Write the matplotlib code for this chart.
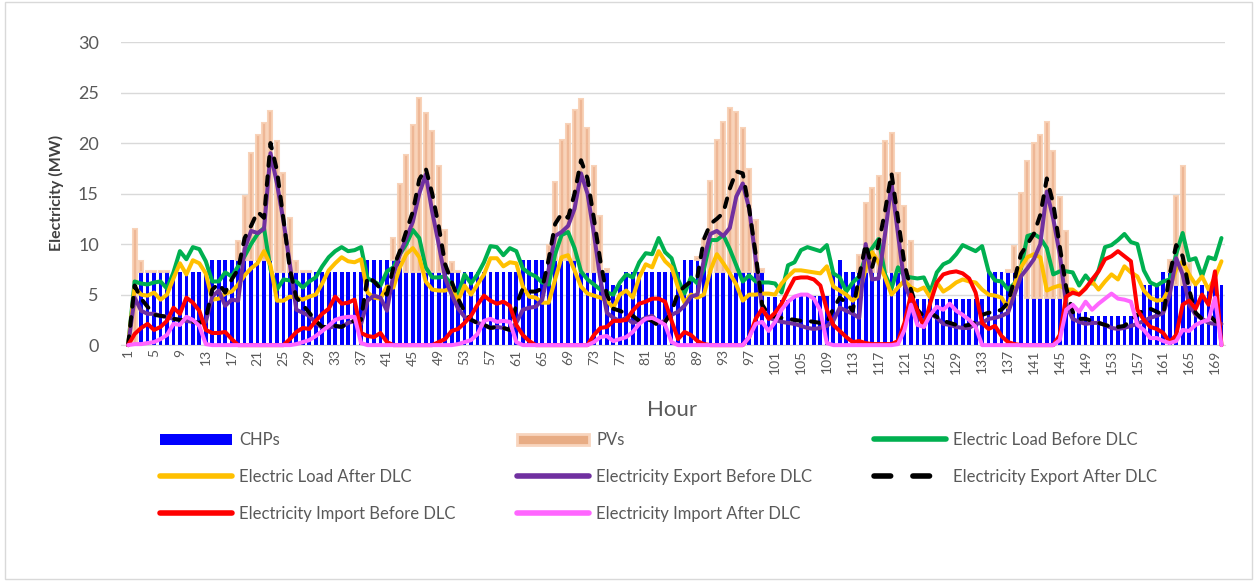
import numpy as np
import matplotlib
matplotlib.use("Agg")
import matplotlib.pyplot as plt
from matplotlib.lines import Line2D
from matplotlib.patches import Patch, Rectangle

plt.rcParams['font.family'] = ['Lato', 'DejaVu Sans']

hours = np.arange(1, 171)

# generation (MW), bars
chp = np.array([
    0, 0, 7.2, 7.2, 7.2, 7.2, 7.2, 7.2, 7.2, 7.2,
    7.2, 7.2, 7.2, 8.4, 8.4, 8.4, 8.4, 8.4, 8.4, 8.4,
    8.4, 8.4, 8.4, 7.2, 7.2, 7.2, 7.2, 7.2, 7.2, 7.2,
    7.2, 7.2, 7.2, 7.2, 7.2, 7.2, 7.2, 8.4, 8.4, 8.4,
    8.4, 8.4, 8.4, 7.2, 7.2, 7.2, 7.2, 7.2, 7.2, 7.2,
    7.2, 7.2, 7.2, 7.2, 7.2, 7.2, 7.2, 7.2, 7.2, 7.2,
    7.2, 8.4, 8.4, 8.4, 8.4, 8.4, 8.4, 8.4, 8.4, 8.4,
    7.2, 7.2, 7.2, 7.2, 7.2, 6.0, 6.0, 7.2, 7.2, 7.2,
    7.2, 7.2, 7.2, 7.2, 7.2, 7.2, 8.4, 8.4, 8.4, 8.4,
    7.2, 7.2, 7.2, 7.2, 7.2, 7.2, 7.2, 7.2, 7.2, 4.8,
    4.8, 4.5, 4.5, 4.9, 4.9, 4.9, 4.9, 4.9, 4.9, 7.2,
    8.4, 7.2, 7.2, 7.2, 7.2, 7.2, 7.2, 7.2, 7.2, 7.2,
    7.2, 4.6, 4.6, 4.6, 4.6, 4.6, 4.6, 4.6, 4.6, 4.6,
    4.6, 4.6, 4.6, 7.2, 7.2, 7.2, 7.2, 7.2, 7.2, 4.7,
    4.7, 4.7, 4.7, 4.7, 4.7, 3.3, 3.3, 3.3, 3.3, 2.9,
    2.9, 2.9, 2.9, 2.9, 2.9, 2.9, 2.9, 6.0, 6.0, 6.0,
    7.2, 7.2, 6.0, 6.0, 6.0, 6.0, 6.0, 6.0, 6.0, 6.0])

pv = np.array([
    0, 11.5, 1.1, 0.1, 0.1, 0.1, 0.1, 0, 0, 0,
    0, 0, 0, 0, 0, 0, 0, 1.9, 6.4, 10.6,
    12.4, 13.6, 14.8, 13.0, 9.8, 5.4, 1.1, 0.1, 0.1, 0,
    0, 0, 0, 0, 0, 0, 0, 0, 0, 0,
    0, 2.2, 7.5, 11.6, 14.6, 17.3, 15.8, 14.0, 10.5, 4.2,
    1.0, 0.1, 0, 0, 0, 0, 0, 0, 0, 0,
    0, 0, 0, 0, 0, 1.5, 7.7, 11.9, 13.5, 14.9,
    17.2, 14.3, 10.5, 5.6, 0.3, 0, 0, 0, 0, 0,
    0, 0, 0, 0, 0, 0, 0, 0, 0.3, 2.1,
    9.0, 13.1, 14.9, 16.3, 15.9, 14.3, 10.2, 5.2, 0.3, 0,
    0, 0, 0, 0, 0, 0, 0, 0, 0, 0,
    0, 0, 0, 1.7, 6.9, 8.4, 9.5, 13.0, 13.8, 9.8,
    6.6, 5.7, 0, 0, 0, 0, 0, 0, 0, 0,
    0, 0, 0, 0, 0, 0, 0.2, 2.6, 7.9, 13.5,
    15.3, 16.1, 17.4, 14.5, 10.0, 8.0, 0, 0, 0, 0,
    0, 0, 0, 0, 0, 0, 0, 0, 0, 0,
    0, 1.2, 8.8, 11.7, 2.1, 0, 0, 0, 0, 0])

# electric load (MW)
load_before = np.array([
    0, 6.3, 6.1, 6.0, 6.2, 6.3, 5.6, 7.2, 9.3, 8.5,
    9.7, 9.5, 8.3, 6.3, 6.3, 7.2, 6.8, 7.8, 8.8, 10.0,
    11.0, 11.6, 7.5, 5.5, 6.5, 6.4, 6.3, 5.7, 6.3, 6.7,
    7.8, 8.7, 9.3, 9.7, 9.3, 9.4, 9.7, 6.6, 6.3, 5.9,
    7.3, 7.7, 9.0, 10.0, 11.4, 10.6, 7.7, 6.7, 6.7, 6.8,
    6.0, 5.0, 7.0, 6.1, 7.0, 8.2, 9.8, 9.7, 8.9, 9.6,
    9.3, 7.6, 7.1, 6.8, 6.2, 6.0, 9.0, 10.9, 11.2, 9.6,
    7.3, 6.5, 6.0, 5.5, 5.2, 5.0, 6.2, 7.0, 6.7, 8.2,
    9.1, 9.0, 10.6, 9.2, 8.6, 6.5, 5.1, 6.7, 6.1, 7.5,
    10.4, 10.4, 10.9, 9.5, 7.9, 6.3, 6.9, 6.3, 6.2, 6.2,
    6.1, 5.2, 7.9, 8.2, 9.4, 9.7, 9.5, 9.3, 9.9, 7.1,
    6.7, 5.3, 6.2, 6.8, 8.8, 9.6, 10.5, 7.0, 5.6, 7.7,
    6.8, 6.7, 6.6, 6.7, 5.3, 7.2, 8.0, 8.3, 9.0, 9.9,
    9.6, 9.3, 9.8, 7.3, 6.4, 6.3, 5.5, 6.1, 7.6, 10.8,
    11.0, 10.6, 9.6, 7.0, 7.3, 7.3, 7.2, 5.9, 6.9, 6.1,
    7.4, 9.7, 9.9, 10.4, 11.0, 10.2, 10.0, 7.4, 6.2, 5.9,
    6.3, 6.5, 9.0, 11.1, 8.4, 8.6, 6.8, 8.7, 8.5, 10.6])

load_after = np.array([
    0, 5.7, 5.0, 4.9, 5.2, 4.5, 5.0, 6.6, 8.1, 7.0,
    8.4, 8.1, 7.1, 4.5, 4.6, 5.1, 5.3, 6.0, 6.9, 7.6,
    8.1, 9.3, 7.9, 4.4, 4.4, 4.8, 4.7, 4.5, 4.8, 5.0,
    6.1, 7.4, 8.1, 8.7, 8.3, 8.2, 8.5, 5.2, 4.7, 4.6,
    5.8, 5.7, 7.7, 9.0, 9.6, 8.7, 6.3, 5.5, 5.4, 5.4,
    5.7, 4.4, 5.9, 5.0, 6.0, 7.0, 8.6, 8.6, 7.8, 8.2,
    8.1, 5.8, 4.8, 4.7, 4.2, 4.2, 6.5, 8.7, 8.9, 7.4,
    5.8, 5.1, 4.9, 4.7, 4.4, 3.7, 5.0, 5.4, 4.7, 6.7,
    8.0, 7.7, 9.3, 8.3, 7.7, 5.7, 4.2, 5.0, 4.7, 5.0,
    7.4, 9.0, 8.1, 7.1, 6.0, 4.4, 5.0, 5.0, 5.1, 5.1,
    5.0, 6.1, 6.8, 7.4, 7.4, 7.3, 7.2, 7.1, 7.8, 5.8,
    5.4, 5.0, 4.4, 5.0, 7.6, 9.2, 8.2, 6.7, 5.0, 5.7,
    6.4, 5.7, 5.4, 5.7, 4.7, 6.2, 5.3, 5.7, 6.2, 6.5,
    6.3, 6.2, 5.5, 5.0, 4.9, 4.7, 3.7, 6.0, 7.7, 8.7,
    9.0, 8.7, 5.4, 5.7, 5.9, 5.5, 5.5, 5.0, 5.7, 6.3,
    5.5, 6.3, 7.0, 6.5, 7.8, 7.2, 6.8, 5.4, 4.7, 4.4,
    4.5, 5.7, 7.5, 8.3, 7.0, 6.0, 6.8, 5.5, 6.7, 8.3])

# grid exchange (MW)
export_before = np.array([
    0, 4.7, 3.4, 3.1, 3.1, 2.9, 2.8, 2.6, 2.5, 2.4,
    2.3, 2.2, 2.3, 4.8, 5.4, 3.9, 4.5, 4.4, 9.5, 11.3,
    11.1, 11.5, 19.0, 16.0, 12.3, 8.0, 3.5, 3.2, 2.9, 2.2,
    1.7, 1.7, 1.9, 1.8, 2.2, 2.4, 2.1, 4.4, 4.9, 4.7,
    3.4, 7.0, 9.0, 10.6, 12.2, 15.0, 16.9, 13.2, 10.0, 6.6,
    5.0, 3.6, 2.8, 2.5, 2.2, 2.0, 1.7, 1.8, 1.7, 1.5,
    2.2, 3.5, 3.7, 3.8, 4.5, 7.5, 10.8, 11.2, 11.8, 13.5,
    17.0, 15.0, 11.0, 6.5, 3.2, 2.7, 2.4, 2.7, 2.2, 2.4,
    2.7, 2.9, 2.2, 2.4, 3.0, 3.3, 3.9, 4.8, 5.0, 8.5,
    11.0, 11.3, 10.8, 11.6, 14.7, 16.0, 13.5, 8.5, 3.6, 2.7,
    2.5, 2.3, 2.2, 2.1, 1.9, 1.7, 1.6, 1.7, 1.9, 2.4,
    3.7, 3.4, 3.1, 2.7, 10.0, 6.5, 6.6, 11.0, 16.0, 11.0,
    6.0, 4.5, 2.7, 2.4, 3.1, 2.7, 2.1, 2.0, 1.8, 1.7,
    1.7, 2.1, 2.2, 2.6, 2.7, 2.9, 3.2, 5.0, 6.8, 7.6,
    8.5, 10.0, 15.2, 12.5, 9.0, 4.0, 2.6, 2.3, 2.1, 2.2,
    2.2, 2.0, 1.7, 1.6, 1.7, 1.9, 2.1, 2.4, 2.7, 2.9,
    3.2, 5.0, 8.6, 7.0, 4.0, 3.0, 2.6, 2.2, 2.1, 2.1])

export_after = np.array([
    0, 5.9, 4.6, 3.8, 3.0, 2.9, 2.8, 2.6, 2.5, 2.4,
    2.3, 2.2, 2.6, 5.5, 6.1, 5.2, 6.5, 7.5, 10.6, 11.8,
    13.2, 12.6, 20.0, 17.3, 12.5, 7.5, 4.7, 4.0, 3.2, 2.4,
    1.8, 1.8, 1.9, 1.8, 2.2, 2.4, 2.5, 6.8, 6.3, 5.6,
    5.0, 7.7, 9.3, 11.3, 13.2, 16.4, 17.5, 15.0, 11.8, 8.0,
    6.3, 4.6, 3.3, 2.5, 2.2, 2.0, 1.7, 1.8, 1.7, 1.5,
    4.0, 5.6, 5.3, 5.3, 5.6, 8.5, 12.0, 13.0, 12.6, 15.0,
    18.3, 16.5, 12.5, 8.3, 5.0, 3.6, 3.4, 3.1, 2.9, 2.4,
    2.6, 2.4, 1.9, 2.3, 3.3, 5.2, 5.8, 6.3, 6.8, 10.5,
    12.0, 12.5, 13.1, 15.5, 17.2, 17.0, 13.5, 9.0, 4.0, 3.0,
    2.8, 2.7, 2.6, 2.5, 2.4, 2.4, 2.3, 2.2, 2.3, 3.6,
    4.7, 4.2, 3.4, 6.8, 10.0, 7.7, 10.0, 13.3, 17.0, 12.5,
    8.0, 5.5, 3.5, 2.8, 3.2, 2.8, 2.4, 2.2, 2.0, 1.9,
    2.0, 2.3, 3.0, 3.2, 3.3, 3.5, 4.2, 6.5, 9.0, 10.0,
    11.0, 12.9, 16.5, 14.0, 9.8, 5.7, 3.3, 2.6, 2.6, 2.4,
    2.2, 2.0, 1.8, 1.8, 1.9, 2.5, 3.0, 3.5, 3.6, 3.3,
    3.0, 7.0, 9.9, 8.8, 5.5, 3.2, 2.6, 3.0, 2.4, 2.1])

import_before = np.array([
    0, 1.1, 1.7, 2.1, 1.5, 1.8, 2.4, 3.7, 3.1, 4.7,
    4.2, 3.4, 1.5, 1.2, 1.2, 1.3, 0.6, 0, 0, 0,
    0, 0, 0, 0, 0, 0.6, 1.3, 1.7, 1.6, 2.4,
    3.1, 3.6, 4.8, 4.1, 4.2, 4.5, 1.2, 0.9, 0.8, 1.2,
    0.3, 0, 0, 0, 0, 0, 0, 0, 0.3, 0.6,
    1.4, 1.6, 2.2, 2.9, 4.0, 4.9, 4.4, 4.1, 4.3, 3.9,
    2.0, 1.0, 0.4, 0, 0, 0, 0, 0, 0, 0,
    0, 0, 1.0, 1.7, 1.8, 2.4, 2.4, 2.5, 3.4, 4.1,
    4.3, 4.6, 4.6, 4.3, 2.4, 0.6, 1.3, 1.0, 0.4, 0.1,
    0, 0, 0, 0, 0, 0, 0.8, 2.6, 3.6, 2.6,
    3.2, 4.1, 5.4, 6.6, 6.7, 6.7, 6.5, 5.9, 3.5, 2.0,
    1.4, 0.8, 0.3, 0.4, 0.2, 0.1, 0.1, 0.1, 0.1, 0.4,
    2.2, 5.0, 3.4, 1.8, 4.2, 6.2, 7.0, 7.2, 7.3, 7.1,
    6.6, 5.2, 2.2, 1.6, 1.9, 0.9, 0.3, 0.1, 0, 0,
    0, 0, 0, 0, 1.0, 4.8, 5.2, 5.0, 5.6, 6.5,
    7.3, 8.5, 8.8, 9.3, 8.8, 8.3, 3.5, 2.5, 1.8, 1.6,
    1.2, 0.3, 1.0, 4.0, 4.4, 3.6, 5.0, 4.0, 7.3, 0])

import_after = np.array([
    0, 0.1, 0.1, 0.2, 0.3, 0.6, 1.0, 2.1, 2.0, 2.8,
    2.5, 1.9, 0.1, 0, 0, 0, 0, 0, 0, 0,
    0, 0, 0, 0, 0, 0, 0.1, 0.3, 0.5, 0.9,
    1.4, 1.9, 2.5, 2.7, 2.8, 2.8, 0.2, 0, 0, 0,
    0, 0, 0, 0, 0, 0, 0, 0, 0, 0,
    0, 0.1, 0.3, 0.5, 1.1, 2.4, 2.6, 2.3, 2.4, 2.3,
    0.3, 0, 0, 0, 0, 0, 0, 0, 0, 0,
    0, 0, 0.3, 0.8, 0.9, 0.4, 0.6, 0.8, 1.3, 2.1,
    2.6, 2.7, 2.4, 2.0, 0.3, 0, 0, 0, 0, 0,
    0, 0, 0, 0, 0, 0, 0.8, 2.1, 2.3, 1.4,
    2.3, 3.5, 4.3, 4.8, 5.0, 5.0, 4.6, 3.4, 0.2, 0,
    0, 0, 0, 0, 0, 0, 0, 0, 0, 0.1,
    1.5, 4.0, 2.0, 1.8, 3.0, 3.8, 3.5, 4.1, 3.4, 3.0,
    2.5, 1.8, 0, 0, 0, 0, 0, 0, 0, 0,
    0, 0, 0, 0, 0.5, 3.5, 4.0, 3.3, 4.3, 3.5,
    4.1, 4.6, 5.1, 4.6, 4.5, 4.3, 2.0, 1.5, 0.7, 0.7,
    0.4, 0.2, 0.4, 1.5, 1.4, 2.0, 2.3, 2.5, 4.7, 0])

fig = plt.figure(figsize=(12.57, 5.81), dpi=100)
ax = fig.add_axes([0.0963, 0.406, 0.878, 0.5216])

# bars: CHP at the bottom, PV stacked on top of it
ax.bar(hours, chp, width=0.58, color='#0000FF', zorder=2)
has_pv = pv > 0
ax.bar(hours[has_pv], pv[has_pv], bottom=chp[has_pv], width=0.62,
       color='#EDB08A', edgecolor='#F8CFB3', linewidth=1.5, alpha=0.9, zorder=2)

lw = 2.9
kw = dict(lw=lw, zorder=3, clip_on=False, solid_joinstyle='round', solid_capstyle='round')
ax.plot(hours, load_before, color='#00B050', **kw)
ax.plot(hours, load_after, color='#FFC000', **kw)
ax.plot(hours, export_before, color='#7030A0', **kw)
ax.plot(hours, export_after, color='black', lw=lw, zorder=3, clip_on=False,
        dashes=(2.2, 2.6), dash_capstyle='round')
ax.plot(hours, import_before, color='#FF0000', **kw)
ax.plot(hours, import_after, color='#FF66FF', **kw)

ax.set_xlim(-0.1, 170.5)
ax.set_ylim(0, 30)
ax.set_yticks(range(0, 31, 5))
ax.set_xticks(range(1, 170, 4))
ax.tick_params(axis='x', rotation=90, labelsize=10, colors='#595959', length=0, pad=3)
ax.tick_params(axis='y', labelsize=13, colors='#595959', length=0, pad=16)
ax.grid(axis='y', color='#D9D9D9', lw=1)
ax.set_axisbelow(True)
for s in ['top', 'right', 'left']:
    ax.spines[s].set_visible(False)
ax.spines['bottom'].set_color('#D9D9D9')

fig.text(0.045, 0.668, 'Electricity (MW)', rotation=90, ha='center', va='center',
         fontsize=11.5, fontweight='bold', color='#404040')
fig.text(0.535, 0.294, 'Hour', ha='center', va='center', fontsize=16, color='#595959')

# legend, filled row by row like the original layout
h_chp = Patch(facecolor='#0000FF')
h_pv = Patch(facecolor='#E8AC84', edgecolor='#F8D5BE', lw=2)
h_lb = Line2D([], [], color='#00B050', lw=4, solid_capstyle='round')
h_la = Line2D([], [], color='#FFC000', lw=4, solid_capstyle='round')
h_eb = Line2D([], [], color='#7030A0', lw=4, solid_capstyle='round')
h_ea = Line2D([], [], color='black', lw=4, dashes=(3.0, 4.0), dash_capstyle='round')
h_ib = Line2D([], [], color='#FF0000', lw=4, solid_capstyle='round')
h_ia = Line2D([], [], color='#FF66FF', lw=4, solid_capstyle='round')
handles = [h_chp, h_la, h_ib, h_pv, h_eb, h_ia, h_lb, h_ea]
labels = ['CHPs', 'Electric Load After DLC', 'Electricity Import Before DLC',
          'PVs', 'Electricity Export Before DLC', 'Electricity Import After DLC',
          'Electric Load Before DLC', 'Electricity Export After DLC']
fig.legend(handles, labels, ncol=3, loc='upper left', bbox_to_anchor=(0.1273, 0.256),
           frameon=False, fontsize=12, handlelength=4.3, handletextpad=0.45,
           columnspacing=3.7, labelspacing=1.25, borderaxespad=0, borderpad=0,
           labelcolor='#595959')

fig.add_artist(Rectangle((0.004, 0.004), 0.992, 0.992, transform=fig.transFigure,
                         fill=False, edgecolor='#D9D9D9', lw=1))

fig.savefig('out.png', dpi=100)
